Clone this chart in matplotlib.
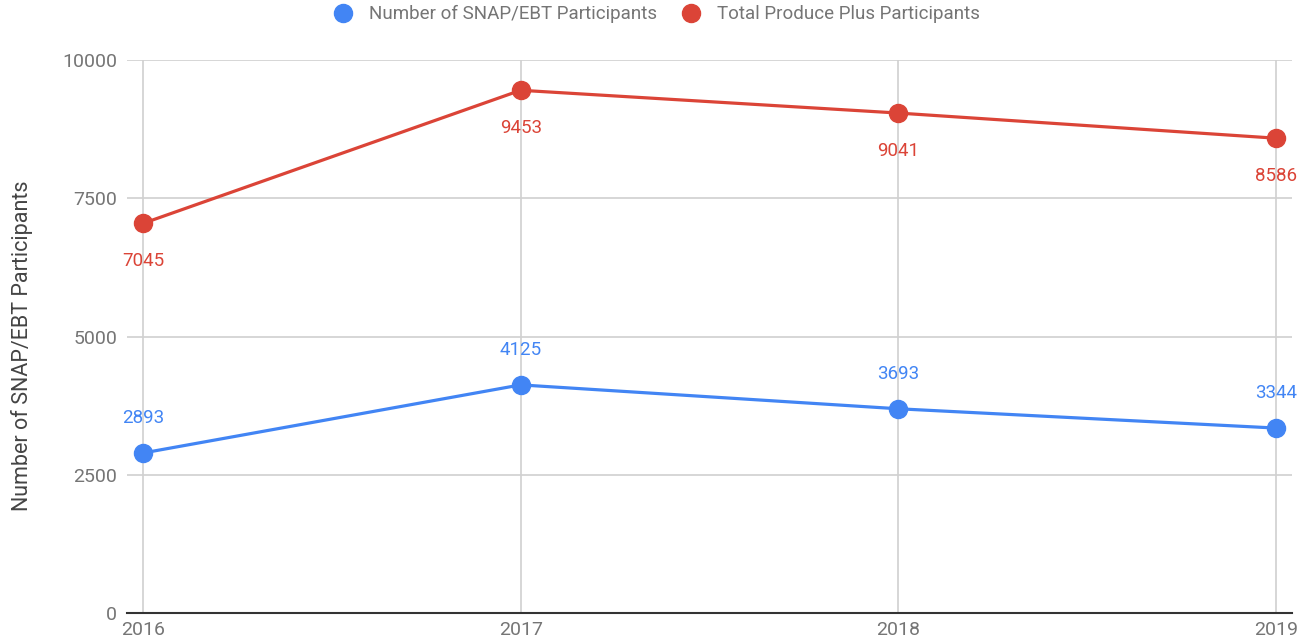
import matplotlib.pyplot as plt
from matplotlib.lines import Line2D

years = [2016, 2017, 2018, 2019]
snap = [2893, 4125, 3693, 3344]
produce_plus = [7045, 9453, 9041, 8586]
yticks = [0, 2500, 5000, 7500, 10000]

blue = "#4285F4"
red = "#DB4437"
grey = "#757575"

plt.rcParams['font.family'] = ['Roboto', 'DejaVu Sans']

fig = plt.figure(figsize=(13.04, 6.42), dpi=100)
ax = fig.add_axes([0.0974, 0.0452, 0.8934, 0.8613])

ax.plot(years, produce_plus, color=red, lw=2.3, marker="o", ms=13, zorder=3, clip_on=False)
ax.plot(years, snap, color=blue, lw=2.3, marker="o", ms=13, zorder=3, clip_on=False)

for x, y in zip(years, produce_plus):
    ax.annotate(str(y), (x, y), xytext=(0, -27), textcoords="offset points",
                ha="center", va="center", color=red, fontsize=13.5)
for x, y in zip(years, snap):
    ax.annotate(str(y), (x, y), xytext=(0, 25), textcoords="offset points",
                ha="center", va="center", color=blue, fontsize=13.5)

ax.set_xlim(2016 - 0.042, 2019 + 0.042)
ax.set_ylim(0, 10000)
ax.set_xticks(years)
ax.set_xticklabels([str(y) for y in years])
ax.set_yticks(yticks)
ax.grid(True, color="#d0d0d0", lw=1.2)
ax.set_axisbelow(True)
for s in ["top", "right", "left"]:
    ax.spines[s].set_visible(False)
ax.spines["bottom"].set_color("#333333")
ax.spines["bottom"].set_linewidth(1.5)
ax.tick_params(length=0, labelsize=14, colors=grey, pad=7)
ax.tick_params(axis="x", pad=6)
ax.set_ylabel("Number of SNAP/EBT Participants", fontsize=15.5, color="#444444")
ax.yaxis.set_label_coords(-0.081, 0.483)

handles = [Line2D([], [], ls="none", marker="o", ms=13, color=blue),
           Line2D([], [], ls="none", marker="o", ms=13, color=red)]
fig.legend(handles, ["Number of SNAP/EBT Participants", "Total Produce Plus Participants"],
           loc="center", bbox_to_anchor=(0.5, 0.978), ncol=2, frameon=False,
           fontsize=13.5, labelcolor=grey, handletextpad=0.4, columnspacing=0.8)

fig.savefig("out.png", dpi=100)
